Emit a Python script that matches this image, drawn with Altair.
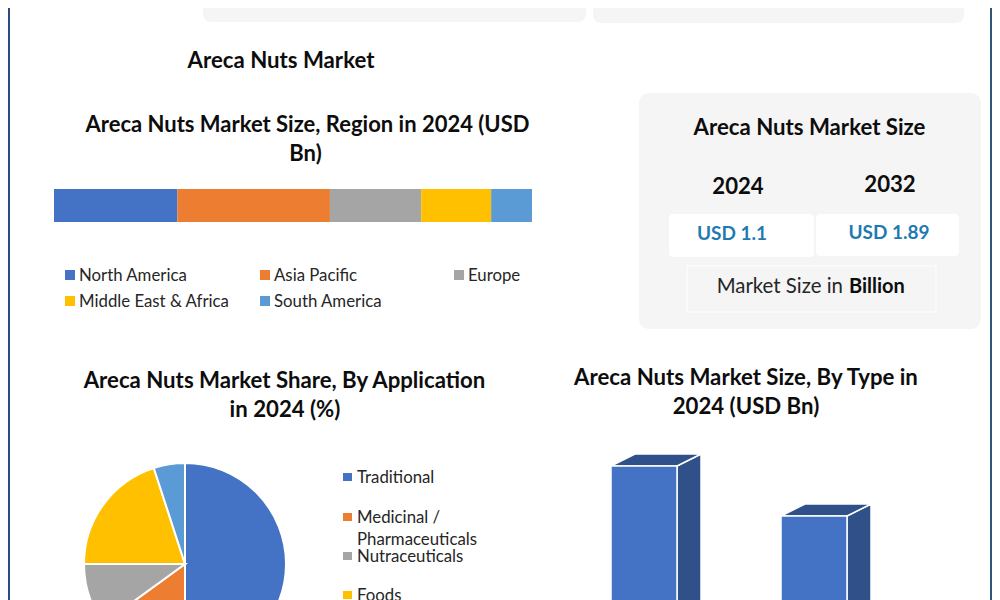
import altair as alt
import pandas as pd

FONT = "Lato"
BLUE, ORANGE, GREY, GOLD, SKY = "#4472C4", "#ED7D31", "#A5A5A5", "#FFC000", "#5B9BD5"
SIDE = "#2F5088"
CARD = "#F5F5F5"

# data
regions = ["North America", "Asia Pacific", "Europe", "Middle East & Africa", "South America"]
region_size = [0.284, 0.351, 0.21, 0.161, 0.094]
region_colors = [BLUE, ORANGE, GREY, GOLD, SKY]

applications = ["Traditional", "Medicinal / Pharmaceuticals", "Nutraceuticals", "Foods", "Others"]
application_share = [50, 15, 10, 20, 5]

types = ["Type A", "Type B"]
type_size = [0.66, 0.44]

# layout, page pixels minus the 8px margin
region_legend_x = [57, 252, 446, 57, 252]
region_legend_y = [267, 267, 267, 293, 293]
bar_left = [603, 773]
BAR_W, BAR_DX = 66, 24
PX_PER_BN = 227.3
BAR_BASE = 608
DEPTH = 12 / PX_PER_BN


def box(x, x2, y, y2, color, radius=0, stroke=None):
    kw = {"stroke": stroke, "strokeWidth": 1} if stroke else {}
    return alt.Chart(pd.DataFrame({"a": [1]})).mark_rect(color=color, cornerRadius=radius, **kw).encode(
        x=alt.value(x), x2=alt.value(x2), y=alt.value(y), y2=alt.value(y2))


def label(text, x, y, size=17, bold=False, color="#262626", align="center"):
    return alt.Chart(pd.DataFrame({"t": [text]})).mark_text(
        font=FONT, fontSize=size, fontWeight="bold" if bold else "normal",
        color=color, align=align, baseline="middle").encode(
        x=alt.value(x), y=alt.value(y + 1), text="t:N")


def head(text, x, y, size=22.2):
    return label(text, x, y, size=size, bold=True, color="#0D0D0D")


layers = [
    box(0, 2, 0, 592, "#2B4A7F"),
    box(982, 984, 0, 592, "#2F5577"),
    box(195, 578, -10, 14, CARD, 8),
    box(585, 956, -10, 15, CARD, 8),
    box(631, 973, 85, 321, CARD, 10),
    box(661, 806, 206, 249, "white", 4),
    box(808, 951, 206, 248, "white", 4),
    box(679, 928, 258, 304, CARD, 0, "white"),
]

layers += [
    head("Areca Nuts Market", 273, 52),
    head("Areca Nuts Market Size, Region in 2024 (USD", 299.5, 116, size=22),
    head("Bn)", 297.5, 145, size=22),
    head("Areca Nuts Market Share, By Application", 276.5, 372),
    head("in 2024 (%)", 277, 401),
    head("Areca Nuts Market Size, By Type in", 738, 369),
    head("2024 (USD Bn)", 738, 398),
    head("Areca Nuts Market Size", 801.5, 119),
    head("2024", 730, 178),
    head("2032", 882, 176),
    label("USD 1.1", 724, 225, size=19, bold=True, color="#1F7AB0"),
    label("USD 1.89", 881, 224, size=19, bold=True, color="#1F7AB0"),
    label("Market Size in", 835, 278, size=20.4, align="right"),
    label("Billion", 841, 278, size=20, bold=True, color="#0D0D0D", align="left"),
]

# stacked region bar
region_df = pd.DataFrame({"region": regions, "size": region_size})
region_df["end"] = region_df["size"].cumsum()
region_df["start"] = region_df["end"] - region_df["size"]
layers.append(
    alt.Chart(region_df).mark_rect().encode(
        x=alt.X("start:Q", axis=None,
                scale=alt.Scale(domain=[0, sum(region_size)], range=[46, 524], nice=False)),
        x2="end:Q",
        y=alt.value(181), y2=alt.value(214),
        color=alt.Color("region:N", legend=None, scale=alt.Scale(domain=regions, range=region_colors)))
)
for i, name in enumerate(regions):
    x, y = region_legend_x[i], region_legend_y[i]
    layers.append(box(x, x + 10, y - 5, y + 5, region_colors[i]))
    layers.append(label(name, x + 14, y, size=16.8, align="left"))

# pie, cut by the bottom of the picture
app_df = pd.DataFrame({"application": applications, "share": application_share, "idx": range(5)})
layers.append(
    alt.Chart(app_df).mark_arc(radius=101, stroke="white", strokeWidth=2).encode(
        theta=alt.Theta("share:Q", stack=True),
        x=alt.value(177), y=alt.value(556),
        color=alt.Color("application:N", legend=None, scale=alt.Scale(domain=applications, range=region_colors)),
        order=alt.Order("idx:Q"))
)
for text, y in [("Traditional", 469), ("Medicinal /", 509), ("Pharmaceuticals", 531),
                ("Nutraceuticals", 548), ("Foods", 587)]:
    layers.append(label(text, 349, y, size=16.8, align="left"))
for y, c in [(469, BLUE), (509, ORANGE), (548, GREY), (587, GOLD)]:
    layers.append(box(335, 344, y - 4, y + 4, c))

# hand made 3D bars
y_scale = alt.Scale(domain=[0, 1], range=[BAR_BASE, BAR_BASE - PX_PER_BN], nice=False, zero=False)
for left, name, value in zip(bar_left, types, type_size):
    right = left + BAR_W
    side = pd.DataFrame({"px": [right, right + BAR_DX],
                         "top": [value, value + DEPTH],
                         "bottom": [0, DEPTH]})
    roof = pd.DataFrame({"px": [left, left + BAR_DX, right, right + BAR_DX],
                         "top": [value, value + DEPTH, value + DEPTH, value + DEPTH],
                         "bottom": [value, value, value, value + DEPTH]})
    front = pd.DataFrame({"type": [name], "size": [value]})
    for df in (side, roof):
        layers.append(
            alt.Chart(df).mark_area(color=SIDE, stroke="white", strokeWidth=1.5).encode(
                x=alt.X("px:Q", scale=None, axis=None),
                y=alt.Y("top:Q", scale=y_scale, axis=None),
                y2="bottom:Q")
        )
    layers.append(
        alt.Chart(front).mark_bar(color=BLUE, stroke="white", strokeWidth=1.5).encode(
            x=alt.value(left), x2=alt.value(right),
            y=alt.Y("size:Q", scale=y_scale, axis=None),
            y2=alt.datum(0))
    )

chart = alt.layer(*layers).resolve_scale(
    x="independent", y="independent", color="independent", theta="independent"
).properties(
    width=984, height=592, padding=0, autosize=alt.AutoSizeParams(type="none"), background="white"
).configure_view(strokeOpacity=0)

chart.save("out.html", embed_options={"renderer": "svg", "actions": False})
